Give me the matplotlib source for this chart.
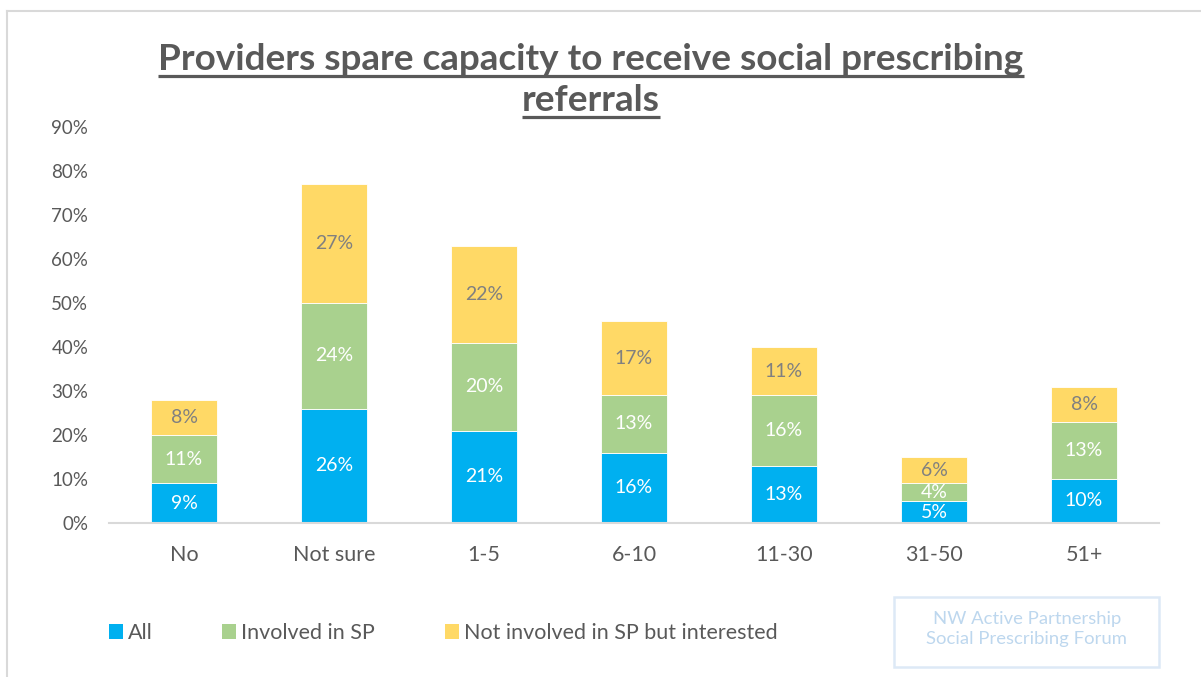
import matplotlib
matplotlib.use("Agg")
import matplotlib.pyplot as plt
from matplotlib.lines import Line2D
from matplotlib.patches import Rectangle, Patch
import numpy as np

categories = ["No", "Not sure", "1-5", "6-10", "11-30", "31-50", "51+"]
series_names = ["All", "Involved in SP", "Not involved in SP but interested"]
all_vals = [9, 26, 21, 16, 13, 5, 10]
involved_vals = [11, 24, 20, 13, 16, 4, 13]
interested_vals = [8, 27, 22, 17, 11, 6, 8]
yticks = [0, 10, 20, 30, 40, 50, 60, 70, 80, 90]

colors = ["#00B0F0", "#A9D18E", "#FFD966"]
label_colors = ["white", "white", "#808080"]
text_grey = "#595959"
body_font = ["Lato", "DejaVu Sans"]
title_font = ["Lato", "DejaVu Sans"]

W, H = 1201, 677
fig = plt.figure(figsize=(W / 100, H / 100), dpi=100)
fig.patch.set_facecolor("white")

# Outer frame (top and left edges visible)
fig.add_artist(Line2D([6.5 / W, 1.0], [1 - 10.5 / H, 1 - 10.5 / H],
                      transform=fig.transFigure, color="#d9d9d9", lw=1.5))
fig.add_artist(Line2D([6.5 / W, 6.5 / W], [0, 1 - 10.5 / H],
                      transform=fig.transFigure, color="#d9d9d9", lw=1.5))

ax = fig.add_axes([109 / W, 1 - 523 / H, 1050 / W, 396 / H])
x = np.arange(len(categories))
width = 0.44
bottom = np.zeros(len(categories))
for vals, col, lcol, name in zip([all_vals, involved_vals, interested_vals],
                                 colors, label_colors, series_names):
    v = np.array(vals, dtype=float)
    ax.bar(x, v, width, bottom=bottom, color=col, label=name,
           edgecolor="white", linewidth=0.6)
    for xi, b, val in zip(x, bottom, v):
        ax.text(xi, b + val / 2, f"{int(val)}%", ha="center", va="center",
                color=lcol, fontsize=14, family=body_font)
    bottom = bottom + v

ax.set_xlim(-0.5, len(categories) - 0.5)
ax.set_ylim(0, 90)
ax.set_yticks(yticks)
ax.set_yticklabels([f"{t}%" for t in yticks])
ax.set_xticks(x)
ax.set_xticklabels(categories)
for lab in ax.get_xticklabels():
    lab.set_family(body_font)
    lab.set_fontsize(15.5)
    lab.set_color(text_grey)
for lab in ax.get_yticklabels():
    lab.set_family(body_font)
    lab.set_fontsize(13.5)
    lab.set_color(text_grey)
ax.tick_params(axis="both", length=0)
ax.tick_params(axis="x", pad=16)
ax.tick_params(axis="y", pad=15)
for s in ["top", "right", "left"]:
    ax.spines[s].set_visible(False)
ax.spines["bottom"].set_color("#d9d9d9")
ax.spines["bottom"].set_linewidth(1.5)

# Legend
handles = [Patch(facecolor=c, edgecolor="none") for c in colors]
leg = fig.legend(handles, series_names, loc="center left",
                 bbox_to_anchor=(109 / W, 1 - 633 / H), ncol=3, frameon=False,
                 handlelength=0.65, handleheight=0.65, handletextpad=0.22,
                 columnspacing=3.25, borderpad=0, borderaxespad=0,
                 prop={"family": body_font, "size": 15.5})
for t in leg.get_texts():
    t.set_color(text_grey)

# Watermark box
fig.add_artist(Rectangle((894 / W, 1 - 667 / H), 265 / W, 70 / H,
                         transform=fig.transFigure, fill=False,
                         edgecolor="#dde9f6", lw=1.8))
fig.text(1027 / W, 1 - 629 / H, "NW Active Partnership\nSocial Prescribing Forum",
         ha="center", va="center", color="#bdd7ee", fontsize=13.3,
         family=body_font, linespacing=1.3)

# Underlined two-line title
title_lines = ["Providers spare capacity to receive social prescribing", "referrals"]
baselines = [70, 111]
title_width_px = 866
title_texts = []
for line, yb in zip(title_lines, baselines):
    t = fig.text(591 / W, 1 - yb / H, line, ha="center", va="baseline",
                 fontsize=20, fontweight="bold", color=text_grey,
                 family=title_font)
    title_texts.append((t, yb))

fig.canvas.draw()
renderer = fig.canvas.get_renderer()
w0 = title_texts[0][0].get_window_extent(renderer).width
scale = title_width_px / w0
for t, _ in title_texts:
    t.set_fontsize(20 * scale)
fig.canvas.draw()
for t, yb in title_texts:
    bb = t.get_window_extent(renderer)
    yl = 1 - (yb + 6) / H
    fig.add_artist(Line2D([bb.x0 / W, bb.x1 / W], [yl, yl],
                          transform=fig.transFigure, color=text_grey, lw=2.3,
                          solid_capstyle="butt"))

fig.savefig("out.png", dpi=100, facecolor="white")
